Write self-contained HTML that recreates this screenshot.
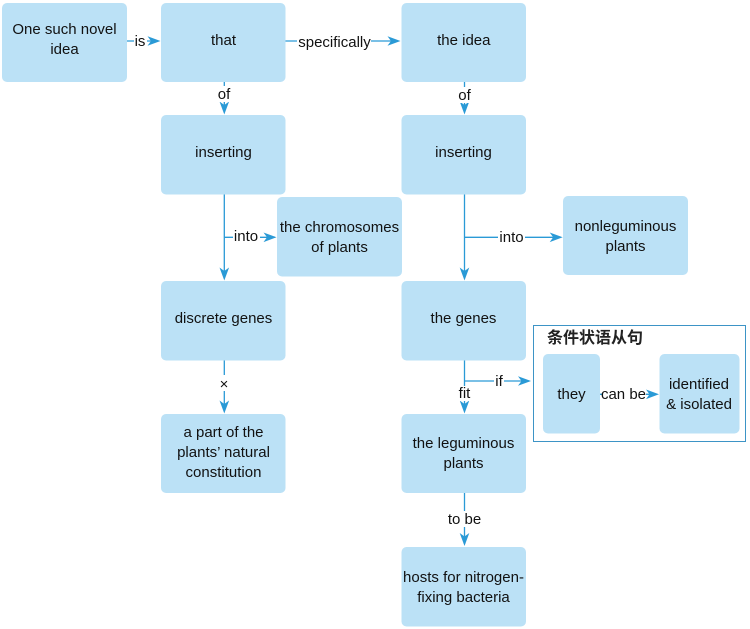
<!DOCTYPE html>
<html><head><meta charset="utf-8"><style>
html,body{margin:0;padding:0;background:#fff;width:750px;height:629px;overflow:hidden}
svg{display:block}
text{font-family:"Liberation Sans","Noto Sans CJK SC",sans-serif;font-size:15px;fill:#111;text-anchor:middle}
.b{fill:#bbe1f6}
.l{stroke:#2a9ad6;stroke-width:1.3;fill:none}
.a{fill:#2a9ad6}
.w{fill:#fff}
</style></head><body>
<svg width="750" height="629" viewBox="0 0 750 629" xmlns="http://www.w3.org/2000/svg">
<defs>
<path id="r" d="M0 0L-13-4.800L-9.500 0L-13 4.800Z"/>
<path id="d" d="M0 0L-4.800-13L0-9.500L4.800-13Z"/>
</defs>
<rect x="533.500" y="325.500" width="212" height="116" fill="#fff" stroke="#3d94c6" stroke-width="1"/>
<g class="l">
<path d="M127 41H158M285 41H398M224.300 82V112M464.500 82V112M224.300 194V278M224.300 237.300H275M464.500 194V278M464.500 237.300H561M464.500 360V411M464.500 381H529M600 394.300H657M224.300 360V411M464.500 493V544"/>
</g>
<g class="a">
<use href="#r" x="160.500" y="41"/><use href="#r" x="400.500" y="41"/>
<use href="#d" x="224.300" y="114.500"/><use href="#d" x="464.500" y="114.500"/>
<use href="#d" x="224.300" y="280.500"/><use href="#r" x="276.500" y="237.300"/>
<use href="#d" x="464.500" y="280.500"/><use href="#r" x="562.700" y="237.300"/>
<use href="#d" x="224.300" y="413.500"/><use href="#d" x="464.500" y="413.500"/>
<use href="#r" x="531" y="381"/><use href="#r" x="659" y="394.300"/>
<use href="#d" x="464.500" y="546"/>
</g>
<g class="b">
<rect x="2" y="3" width="125" height="79" rx="5"/>
<rect x="161" y="3" width="124.500" height="79" rx="5"/>
<rect x="401.500" y="3" width="124.500" height="79" rx="5"/>
<rect x="161" y="115" width="124.500" height="79.500" rx="5"/>
<rect x="401.500" y="115" width="124.500" height="79.500" rx="5"/>
<rect x="277" y="197" width="125" height="79.500" rx="5"/>
<rect x="563" y="196" width="125" height="79" rx="5"/>
<rect x="161" y="281" width="124.500" height="79.500" rx="5"/>
<rect x="401.500" y="281" width="124.500" height="79.500" rx="5"/>
<rect x="161" y="414" width="124.500" height="79" rx="5"/>
<rect x="401.500" y="414" width="124.500" height="79" rx="5"/>
<rect x="401.500" y="547" width="124.500" height="79.500" rx="5"/>
<rect x="543" y="354" width="57" height="79.500" rx="5"/>
<rect x="659.500" y="354" width="80" height="79.500" rx="5"/>
</g>
<g class="w">
<rect x="134" y="33" width="13" height="16"/>
<rect x="297" y="33" width="74" height="16"/>
<rect x="217" y="86" width="15" height="16"/>
<rect x="458" y="87" width="14" height="16"/>
<rect x="233" y="229" width="27" height="16"/>
<rect x="498" y="229" width="27" height="16"/>
<rect x="218" y="375" width="13" height="16"/>
<rect x="494" y="374" width="10" height="15"/>
<rect x="458" y="386" width="14" height="15"/>
<rect x="602" y="386" width="44" height="16"/>
<rect x="447" y="511" width="36" height="16"/>
</g>
<text x="64.500" y="34">One such novel</text><text x="64.500" y="54">idea</text>
<text x="223.500" y="45">that</text>
<text x="463.800" y="45">the idea</text>
<text x="223.500" y="157">inserting</text>
<text x="463.500" y="157">inserting</text>
<text x="339.500" y="232">the chromosomes</text><text x="339.500" y="252">of plants</text>
<text x="625.500" y="231">nonleguminous</text><text x="625.500" y="251">plants</text>
<text x="223.500" y="323">discrete genes</text>
<text x="463.500" y="323">the genes</text>
<text x="223.500" y="437">a part of the</text><text x="223.500" y="457">plants’ natural</text><text x="223.500" y="477">constitution</text>
<text x="463.500" y="448">the leguminous</text><text x="463.500" y="468">plants</text>
<text x="463.500" y="582">hosts for nitrogen-</text><text x="463.500" y="602">fixing bacteria</text>
<text x="571.500" y="399">they</text>
<text x="699" y="389">identified</text><text x="699" y="409">&amp; isolated</text>
<text x="140" y="46">is</text>
<text x="334.500" y="47">specifically</text>
<text x="224" y="99">of</text>
<text x="464.500" y="100">of</text>
<text x="246" y="241">into</text>
<text x="511.500" y="242">into</text>
<text x="224" y="389">×</text>
<text x="499" y="386">if</text>
<text x="464.500" y="398">fit</text>
<text x="623.500" y="399">can be</text>
<text x="464.500" y="524">to be</text>
<text x="595" y="343" style="font-size:16px;font-weight:bold;fill:#222">条件状语从句</text>
</svg>
</body></html>
